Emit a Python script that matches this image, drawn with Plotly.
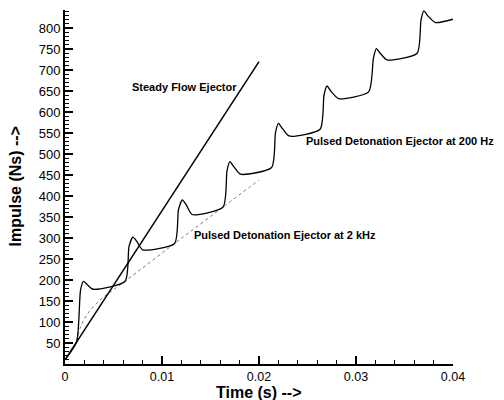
import plotly.graph_objects as go

# Steady flow ejector
t_steady = [0.0, 0.0200]
imp_steady = [10, 720]

# Pulsed detonation ejector at 200 Hz
t_200 = [0.0, 0.0012, 0.0016, 0.0019, 0.0023, 0.0029, 0.0062,
         0.0066, 0.0070, 0.0074, 0.0080, 0.0113,
         0.0117, 0.0121, 0.0125, 0.0131, 0.0163,
         0.0167, 0.0170, 0.0174, 0.0181, 0.0213,
         0.0217, 0.0220, 0.0224, 0.0231, 0.0263,
         0.0267, 0.0270, 0.0274, 0.0282, 0.0313,
         0.0318, 0.0321, 0.0325, 0.0332, 0.0363,
         0.0367, 0.0370, 0.0374, 0.0382, 0.0400]
imp_200 = [10, 53, 176, 197, 189, 178, 197,
           280, 302, 292, 272, 287,
           368, 391, 379, 356, 374,
           460, 482, 470, 452, 468,
           551, 573, 561, 543, 559,
           640, 662, 650, 632, 648,
           729, 751, 740, 724, 740,
           819, 841, 829, 813, 821]

# Pulsed detonation ejector at 2 kHz
t_2k = [0.0012, 0.0016, 0.0022, 0.0035, 0.0062, 0.0113, 0.0163, 0.0200]
imp_2k = [55, 88, 115, 150, 197, 287, 374, 438]

x_tickvals = [0, 0.01, 0.02, 0.03, 0.04]
x_ticktext = ["0", "0.01", "0.02", "0.03", "0.04"]
y_tickvals = list(range(50, 801, 50))

labels = ["Steady Flow Ejector", "Pulsed Detonation Ejector at 200 Hz",
          "Pulsed Detonation Ejector at 2 kHz"]
label_x = [0.01237, 0.03454, 0.02268]
label_y = [660, 531, 307]

fig = go.Figure()
fig.add_trace(go.Scatter(x=t_2k, y=imp_2k, mode="lines",
                         line=dict(color="#777777", width=1, dash="dot", shape="spline"),
                         hoverinfo="skip"))
fig.add_trace(go.Scatter(x=t_steady, y=imp_steady, mode="lines",
                         line=dict(color="black", width=1.5)))
fig.add_trace(go.Scatter(x=t_200, y=imp_200, mode="lines",
                         line=dict(color="black", width=1.3, shape="spline", smoothing=0.6)))

for txt, xx, yy in zip(labels, label_x, label_y):
    fig.add_annotation(x=xx, y=yy, text="<b>" + txt + "</b>", showarrow=False,
                       font=dict(family="Liberation Sans, Arial", size=11, color="black"))

fig.add_annotation(xref="paper", yref="paper", x=0.5, y=0, yshift=-19, yanchor="top",
                   text="<b>Time (s) --></b>", showarrow=False, borderpad=0,
                   font=dict(family="Liberation Sans, Arial", size=16, color="black"))
fig.add_annotation(xref="paper", yref="paper", x=0, xshift=-40, y=0.5, xanchor="right",
                   text="<b>Impulse (Ns) --></b>", showarrow=False, textangle=-90,
                   font=dict(family="Liberation Sans, Arial", size=16, color="black"))

fig.update_layout(
    width=496, height=392,
    margin=dict(l=57, r=51, t=2, b=36),
    paper_bgcolor="white", plot_bgcolor="white",
    showlegend=False,
    font=dict(family="Liberation Sans, Arial", color="black"),
    xaxis=dict(range=[0, 0.04], tickvals=x_tickvals, ticktext=x_ticktext,
               showgrid=False, zeroline=False, showline=True, linecolor="black", linewidth=2,
               ticks="inside", ticklen=8, tickwidth=1.5, tickcolor="black",
               tickfont=dict(size=12.5),
               minor=dict(dtick=0.002, tick0=0, ticks="inside", ticklen=4, tickwidth=1, tickcolor="black")),
    yaxis=dict(range=[0, 843], tickvals=y_tickvals,
               showgrid=False, zeroline=False, showline=True, linecolor="black", linewidth=2,
               ticks="inside", ticklen=8, tickwidth=1.5, tickcolor="black",
               tickfont=dict(size=13),
               minor=dict(dtick=10, tick0=0, ticks="inside", ticklen=4, tickwidth=1, tickcolor="black")),
)

fig.write_html("out.html")
